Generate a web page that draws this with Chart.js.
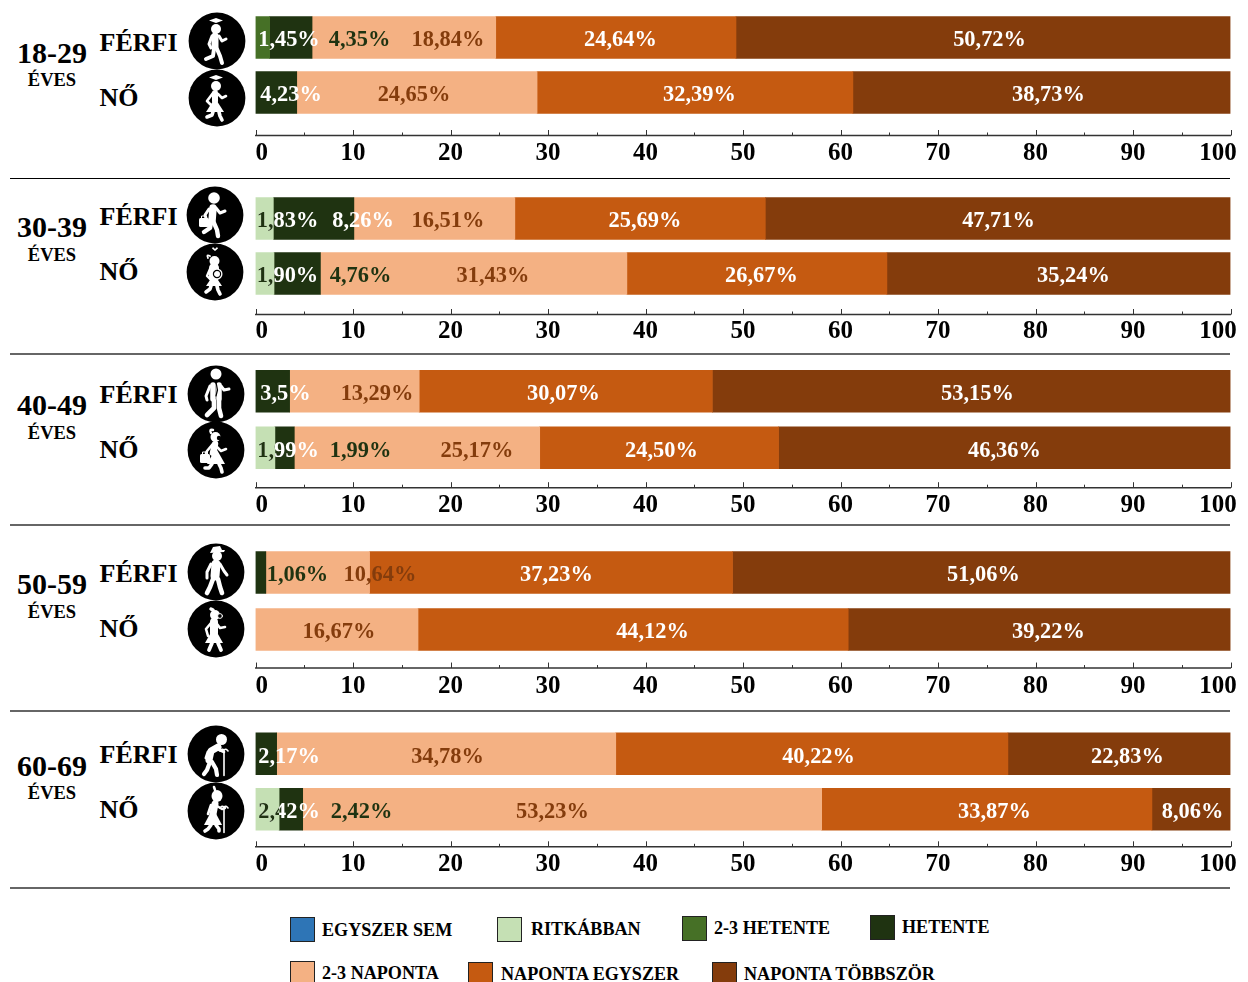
<!DOCTYPE html>
<html lang="hu">
<head>
<meta charset="utf-8">
<title>Gyakoriság korcsoportonként</title>
<script src="https://cdn.jsdelivr.net/npm/chart.js@4"></script>
<style>
  html, body { margin: 0; background: #fff; overflow: hidden; }
  #page { position: relative; width: 1248px; height: 982px; overflow: hidden; font-family: "Liberation Serif", serif; font-weight: bold; color: #000; }
  #page canvas, .txt, .sep, .swatch, .icon { position: absolute; }
  .txt { white-space: nowrap; line-height: 1; transform: translateY(-50%); }
  .sep { left: 10px; width: 1220px; }
  .swatch { box-sizing: border-box; width: 25px; height: 25px; border: 1.5px solid #222; }
</style>
</head>
<body>
<div id="page"></div>
<script>
// adatok: sorok sorrendje 18-29 FÉRFI, 18-29 NŐ, 30-39 FÉRFI, ...
const korok = ["18-29", "30-39", "40-49", "50-59", "60-69"];
const nemek = ["FÉRFI", "NŐ"];
const egyszerSem = [0, 0, 0, 0, 0, 0, 0, 0, 0, 0];
const ritkabban = [0, 0, 1.83, 1.90, 0, 1.99, 0, 0, 0, 2.42];
const hetente23 = [1.45, 0, 0, 0, 0, 0, 0, 0, 0, 0];
const hetente = [4.35, 4.23, 8.26, 4.76, 3.5, 1.99, 1.06, 0, 2.17, 2.42];
const naponta23 = [18.84, 24.65, 16.51, 31.43, 13.29, 25.17, 10.64, 16.67, 34.78, 53.23];
const napontaEgyszer = [24.64, 32.39, 25.69, 26.67, 30.07, 24.50, 37.23, 44.12, 40.22, 33.87];
const napontaTobbszor = [50.72, 38.73, 47.71, 35.24, 53.15, 46.36, 51.06, 39.22, 22.83, 8.06];
const tengelyCimkek = ["0", "10", "20", "30", "40", "50", "60", "70", "80", "90", "100"];

const sorozatok = [
  { nev: "EGYSZER SEM", adat: egyszerSem, szin: "#2e75b6" },
  { nev: "RITKÁBBAN", adat: ritkabban, szin: "#c5e0b4" },
  { nev: "2-3 HETENTE", adat: hetente23, szin: "#467026" },
  { nev: "HETENTE", adat: hetente, szin: "#1f3311" },
  { nev: "2-3 NAPONTA", adat: naponta23, szin: "#f4b183" },
  { nev: "NAPONTA EGYSZER", adat: napontaEgyszer, szin: "#c55a11" },
  { nev: "NAPONTA TÖBBSZÖR", adat: napontaTobbszor, szin: "#843c0c" }
];

// elrendezés
const sotetZold = "#1f3311", barna = "#843c0c";
const sorY = [[37, 92], [218, 273], [391.7, 448.5], [572.5, 629.6], [754, 809.6]];
const tengelyY = [135, 314, 488, 668, 847];
const cimkeY = [152, 330, 505, 685, 863];
const elvalasztok = [[178, 1, "#000"], [353.5, 2, "#666"], [524.5, 2, "#666"], [710.5, 2, "#666"], [888, 2, "#666"]];
const korY = [[53, 80], [227, 255], [405, 433], [584, 612], [766, 793]];
const nemY = [[43, 98], [217, 272], [395, 450], [574, 629], [755, 810]];
const ikonY = [[41, 98], [215, 272], [393.5, 450], [572, 629], [753.5, 810.5]];
const ikonX = [216.5, 215, 216, 215.5, 215.5];
const bal = 255.5, jobb = 1230.5, vaszonBal = 200, vaszonSzel = 1100, tengelyMag = 58;

// a százalékos feliratok eltolása a szakasz közepétől (px), soronként a látható szakaszokra
const felEltolas = [
  [26.4, 68.7, 44.1, 4.6, 6.3], [14.9, -2.9, 4.5, 6.8],
  [23.1, 49.4, 13.6, 4.9, 0.6], [22.7, 63.3, 19.3, 4.6, 14.8],
  [12.9, 22.6, -2.3, 6], [22.8, 75.9, 60, 2.3, -0.1],
  [36.8, 62.3, 5.4, 2], [2.2, 19.4, 9.1],
  [22.9, 1.3, 6.7, 8.3], [21.7, 70.6, -9.7, 7.7, 1.3]
];
// ezekben a sorokban a HETENTE felirata sötétzöld
const hetenteSotet = [0, 3, 5, 6, 9];

const szazalek = v => (v === 3.5 ? "3,5" : v.toFixed(2).replace(".", ",")) + "%";

const page = document.getElementById("page");
function szoveg(t, x, y, meret, kozep) {
  const d = document.createElement("div");
  d.className = "txt";
  d.textContent = t;
  d.style.fontSize = meret + "px";
  d.style.top = y + "px";
  d.style.left = x + "px";
  if (kozep) d.style.transform = "translate(-50%,-50%)";
  page.appendChild(d);
}

// százalék feliratok
const feliratPlugin = {
  id: "feliratok",
  afterDatasetsDraw(chart, args, opts) {
    const ctx = chart.ctx;
    ctx.save();
    ctx.font = "bold 22.4px 'Liberation Serif'";
    ctx.textAlign = "center";
    ctx.textBaseline = "middle";
    chart.data.labels.forEach((l, i) => {
      const sor = opts.elso + i;
      let k = 0;
      sorozatok.forEach((s, d) => {
        const v = chart.data.datasets[d].data[i];
        if (!v) return;
        const bar = chart.getDatasetMeta(d).data[i];
        const x = (bar.x + bar.base) / 2 + felEltolas[sor][k++];
        const y = bar.y + 3;
        let szin = "#fff";
        if (s.adat === naponta23) szin = barna;
        if (s.adat === hetente && hetenteSotet.includes(sor)) szin = sotetZold;
        ctx.fillStyle = szin;
        ctx.fillText(szazalek(v), x, y);
        if (s.adat === ritkabban) {
          // a halvány szakaszon belül sötét a szöveg
          ctx.save();
          ctx.beginPath();
          ctx.rect(bar.base, bar.y - 21, bar.x - bar.base, 42);
          ctx.clip();
          ctx.fillStyle = sotetZold;
          ctx.fillText(szazalek(v), x, y);
          ctx.restore();
        }
      });
    });
    ctx.restore();
  }
};

// tengelyvonal és felfelé álló osztások
const tengelyPlugin = {
  id: "tengely",
  afterDraw(chart, args, opts) {
    const ctx = chart.ctx, sc = chart.scales.x, y = opts.y;
    ctx.save();
    ctx.strokeStyle = "#333";
    ctx.lineWidth = 1.5;
    ctx.beginPath();
    ctx.moveTo(sc.left - 0.5, y);
    ctx.lineTo(sc.right + 0.5, y);
    ctx.stroke();
    ctx.lineWidth = 1;
    sc.ticks.forEach(t => {
      const x = Math.round(sc.getPixelForValue(t.value)) + 0.5;
      ctx.beginPath();
      ctx.moveTo(x, y);
      ctx.lineTo(x, y - (t.value % 10 === 0 ? 5.5 : 3));
      ctx.stroke();
    });
    ctx.restore();
  }
};

korok.forEach((kor, p) => {
  const elso = p * 2;
  const gap = sorY[p][1] - sorY[p][0];
  const felso = sorY[p][0] - gap / 2;
  const also = sorY[p][1] + gap / 2;
  const c = document.createElement("canvas");
  c.width = vaszonSzel;
  c.height = 4 + 2 * gap + tengelyMag;
  c.style.left = vaszonBal + "px";
  c.style.top = (felso - 4) + "px";
  page.appendChild(c);
  new Chart(c, {
    type: "bar",
    plugins: [feliratPlugin, tengelyPlugin],
    data: {
      labels: nemek,
      datasets: sorozatok.map(s => ({
        label: s.nev,
        // a 0 értékű szakasz ne hagyjon csíkot a bal szélen
        data: s.adat.slice(elso, elso + 2).map(e => e || null),
        backgroundColor: s.szin,
        borderWidth: 0,
        barThickness: 42
      }))
    },
    options: {
      indexAxis: "y",
      responsive: false,
      animation: false,
      layout: { padding: { left: bal - vaszonBal, right: vaszonBal + vaszonSzel - jobb, top: 4, bottom: 0 } },
      plugins: {
        legend: { display: false },
        title: { display: false },
        tooltip: { enabled: false },
        feliratok: { elso },
        tengely: { y: tengelyY[p] - felso + 4 }
      },
      scales: {
        x: {
          type: "linear",
          stacked: true,
          min: 0,
          max: 100,
          grid: { display: false },
          border: { display: false },
          afterFit(s) { s.height = tengelyMag; },
          ticks: {
            stepSize: 5,
            autoSkip: false,
            minRotation: 0,
            maxRotation: 0,
            padding: cimkeY[p] - also - 21.5,
            color: "#000",
            font: { family: "'Liberation Serif'", weight: "bold", size: 25 },
            // a két szélső címke kicsit befelé húzva, mint az eredetin
            callback(v) {
              if (v % 10 !== 0) return "";
              const t = tengelyCimkek[v / 10];
              if (v === 0) return "  " + t;
              if (v === 100) return t + "    ";
              return t;
            }
          }
        },
        y: { stacked: true, display: false }
      }
    }
  });

  szoveg(kor, 52, korY[p][0], 30, true);
  szoveg("ÉVES", 52, korY[p][1], 18.5, true);
  nemek.forEach((n, j) => szoveg(n, 99.5, nemY[p][j], 26, false));
});

elvalasztok.forEach(([y, h, col]) => {
  const d = document.createElement("div");
  d.className = "sep";
  d.style.top = (y - h / 2) + "px";
  d.style.height = h + "px";
  d.style.background = col;
  page.appendChild(d);
});

// jelmagyarázat
const jelmPoz = [
  [290, 917, 322, 930], [497, 917, 531, 929], [682, 916, 714, 928], [870, 915, 902, 927],
  [290, 961, 322, 973], [468, 962, 501, 974], [712, 962, 744, 974]
];
sorozatok.forEach((s, i) => {
  const [sx, sy, tx, ty] = jelmPoz[i];
  const d = document.createElement("div");
  d.className = "swatch";
  d.style.left = sx + "px";
  d.style.top = sy + "px";
  d.style.background = s.szin;
  page.appendChild(d);
  szoveg(s.nev, tx, ty, 18.1, false);
});

// piktogramok: fekete kör, fehér alak
const v = (d, w) => `<path d="${d}" stroke-width="${w}"/>`;
const fej = (x, y, r) => `<circle cx="${x}" cy="${y}" r="${r}" fill="#fff" stroke="none"/>`;
const kalap = `<path d="M-8,-20.5 L-1,-23 L6,-20.5 L-1,-18 Z" fill="#fff" stroke="none"/>`;
const ruha = (x, y, w) => `<path d="M${x},${y} L${x - w},14 L${x + w},14 Z" fill="#fff" stroke="none"/>`;
const taska = (x, y) => `<rect x="${x}" y="${y}" width="10" height="9" rx="1.5" fill="#fff" stroke="none"/><path d="M${x + 2.5},${y} v-2 h5 v2" stroke-width="1"/>`;
const bot = (x, y) => v(`M${x - 4},${y + 1} Q${x - 2},${y - 2} ${x},${y} V21.5 M${x},${y} Q${x + 2},${y - 2} ${x + 4},${y + 1}`, 1.6);
const ikonok = [
  fej(-1, -12, 5) + kalap + v("M-2,-5 L-2,6", 7) + v("M-5,-5 L-8,3 L-6,7", 3) + v("M2,-5 L5,0 L9,-2", 3) + v("M-3,8 L-4,15 L-11,18", 4) + v("M0,8 L3,15 L5,22", 4),
  fej(-1, -12, 5) + kalap + v("M-2,-5 L-2,3", 6) + ruha(-2, 0, 9) + v("M-4,-5 L-10,3 L-6,7", 2.6) + v("M1,-4 L5,0 L9,-2", 2.6) + v("M-4,14 L-5,17 L-10,19", 3.6) + v("M2,14 L3,18 L5,22", 3.6),
  fej(-1, -17, 5.8) + v("M-2,-7 L-3,6", 7.5) + v("M-6,-6 L-10,0 L-9,3", 3) + v("M1,-7 L5,-2 L10,-4", 3) + v("M-4,8 L-5,13 L-11,17", 4.4) + v("M-1,8 L2,15 L3,21", 4.4) + taska(-16, 3),
  fej(-0.5, -11, 5) + `<path d="M-2,-25 L0,-23 L2,-25 L3,-23.5 L0,-21 L-3,-23.5 Z" fill="#fff" stroke="none"/>` + v("M-5,-16 Q-9,-18 -7,-14", 1.8) + v("M-1,-4 L-1,5", 10) + ruha(-1, 2, 8) + v("M-5,-3 L-8,4 L-4,8", 2.4) + fej(2, 2, 5.5) + `<circle cx="2" cy="2" r="3.6" fill="none" stroke="#000" stroke-width="1.2"/>` + v("M-4,14 L-5,17 L-9,20", 3.6) + v("M2,14 L3,18 L5,22", 3.6),
  fej(0, -20, 5.5) + v("M-3,-9 L-3,5 M3,-9 L3,5", 5.5) + v("M-6,-8 L-10,2 L-9,6", 3) + v("M5,-8 L8,-4 L13,-5", 3) + `<path d="M0,-12 L1.5,-4 L0,2" stroke="#000" stroke-width="1.2"/>` + v("M-2,7 L-2,14 L-9,21", 4.6) + v("M3,7 L3,14 L5,22", 4.6),
  fej(-0.5, -13, 5) + v("M-5,-17 Q-7,-21 -3,-20", 2.4) + `<circle cx="3" cy="-12" r="2.2" fill="#000" stroke="none"/>` + v("M-1,-6 L-3,3", 6.5) + ruha(0, -2, 9) + v("M-4,-5 L-9,1 L-10,3", 2.6) + v("M0,-4 L5,1 L10,-1", 2.6) + taska(-16, 4) + v("M-4,14 L-7,18 L-11,18", 3.6) + v("M3,14 L5,18 L6,22", 3.6),
  fej(1, -16, 5) + `<path d="M-5,-21 L-3,-25 L4,-26 L6,-22 L9,-22 L8,-20 L-6,-19 Z" fill="#fff" stroke="none"/>` + v("M0,-8 L-1,4", 9) + v("M-5,-8 L-9,0 L-9,6", 3) + v("M4,-8 L8,-1 L11,3", 3) + v("M-3,7 L-6,15 L-9,21", 4.6) + v("M2,7 L4,15 L6,21", 4.6),
  fej(-1, -14, 5) + v("M-5,-20 L-3,-19", 3.5) + `<circle cx="4" cy="-13" r="2.4" fill="#000" stroke="#fff" stroke-width="1"/>` + v("M-2,-7 L-2,4", 8) + ruha(-2, -2, 9) + v("M-5,-6 L-10,0 L-8,7", 2.6) + v("M1,-5 L4,-1 L9,-2", 2.6) + v("M-4,14 L-7,21", 3.8) + v("M2,14 L5,21", 3.8),
  fej(5.5, -14.5, 5.5) + v("M2,-7 L-5,-3 L-7,6", 7) + v("M-8,-2 L-10,4", 3) + v("M1,-5 L8,-2", 2.6) + v("M-6,8 L-9,16 L-12,20", 4.2) + v("M-4,8 L0,15 L1,21", 4.2) + bot(8, -4),
  `<ellipse cx="1" cy="-15" rx="5.5" ry="6" fill="#fff" stroke="none"/>` + v("M-1,-21 L-2,-24", 2.5) + v("M-1,-7 L-3,3", 7) + ruha(-3, -3, 9) + v("M-5,-6 L-8,3", 2.6) + v("M1,-5 L6,-2 L9,-3", 2.4) + v("M-5,14 L-8,18 L-11,20", 3.6) + v("M0,14 L3,18 L3,20", 3.6) + bot(8, -4)
];
ikonok.forEach((rajz, i) => {
  const p = Math.floor(i / 2), j = i % 2;
  const d = document.createElement("div");
  d.className = "icon";
  d.style.left = (ikonX[p] - 29) + "px";
  d.style.top = (ikonY[p][j] - 29) + "px";
  d.innerHTML = `<svg width="58" height="58" viewBox="-29 -29 58 58" style="display:block"><circle r="28.4" fill="#000"/><g fill="none" stroke="#fff" stroke-linecap="round" stroke-linejoin="round">${rajz}</g></svg>`;
  page.appendChild(d);
});
</script>
</body>
</html>
